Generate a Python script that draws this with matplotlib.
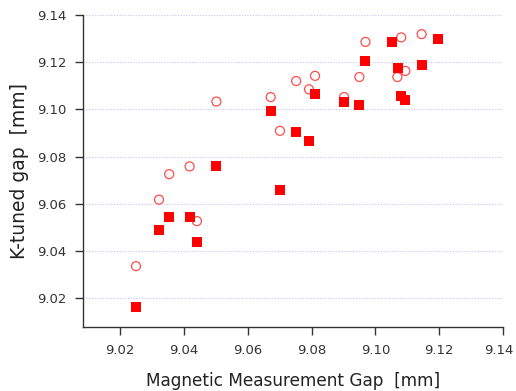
import matplotlib
matplotlib.use("Agg")
import matplotlib.pyplot as plt
import matplotlib.transforms as mtransforms

sq_x = [9.0251, 9.0321, 9.0354, 9.0418, 9.0441, 9.0502, 9.0672, 9.0701, 9.0752, 9.0792,
        9.0811, 9.0902, 9.0950, 9.0969, 9.1051, 9.1071, 9.1081, 9.1094, 9.1145, 9.1197]
sq_y = [9.0161, 9.0489, 9.0545, 9.0543, 9.0437, 9.0759, 9.0992, 9.0658, 9.0902, 9.0865,
        9.1063, 9.1030, 9.1020, 9.1206, 9.1286, 9.1177, 9.1057, 9.1041, 9.1187, 9.1299]

circ_x = [9.0250, 9.0322, 9.0354, 9.0418, 9.0441, 9.0502, 9.0672, 9.0701, 9.0752, 9.0792,
          9.0811, 9.0902, 9.0950, 9.0969, 9.1069, 9.1081, 9.1094, 9.1145]
circ_y = [9.0335, 9.0617, 9.0725, 9.0758, 9.0526, 9.1033, 9.1052, 9.0909, 9.1120, 9.1085,
          9.1142, 9.1052, 9.1137, 9.1286, 9.1137, 9.1305, 9.1163, 9.1319]

x_ticks = [9.02, 9.04, 9.06, 9.08, 9.10, 9.12, 9.14]
y_ticks = [9.02, 9.04, 9.06, 9.08, 9.10, 9.12, 9.14]

plt.rcParams.update({"font.family": "DejaVu Sans"})

fig = plt.figure(figsize=(5.16, 3.91), dpi=100)
ax = fig.add_axes([0.1609, 0.1637, 0.8139, 0.7979])

ax.scatter(circ_x, circ_y, s=42, marker="o", facecolor="none", edgecolor="#ff4d4d",
           linewidth=0.9, zorder=3)
ax.scatter(sq_x, sq_y, s=52, marker="s", color="#ff0000", linewidth=0, zorder=4)

ax.set_xlim(9.0084, 9.14)
ax.set_ylim(9.0077, 9.14)
ax.set_xticks(x_ticks)
ax.set_xticklabels([f"{v:.2f}" for v in x_ticks])
ax.set_yticks(y_ticks)
ax.set_yticklabels([f"{v:.2f}" for v in y_ticks])

ax.grid(axis="y", color="#c4c4f4", linestyle=(0, (1, 1.5)), linewidth=0.8)
ax.set_axisbelow(True)
for s in ("top", "right"):
    ax.spines[s].set_visible(False)
for s in ("left", "bottom"):
    ax.spines[s].set_color("#333333")
    ax.spines[s].set_linewidth(1.0)

ax.tick_params(direction="out", length=6, width=1, color="#333333",
               labelsize=9.5, labelcolor="#333333", pad=6)
# keep the last x label inside the canvas
last = ax.get_xticklabels()[-1]
last.set_transform(last.get_transform() +
                   mtransforms.ScaledTranslation(-4 / 100, 0, fig.dpi_scale_trans))

ax.set_xlabel("Magnetic Measurement Gap  [mm]", fontsize=12.2, color="#222222", labelpad=11)
ax.set_ylabel("K-tuned gap  [mm]", fontsize=13.5, color="#222222", labelpad=12)
ax.yaxis.set_label_coords(-0.128, 0.5)

fig.savefig("out.png", dpi=100, facecolor="white")
